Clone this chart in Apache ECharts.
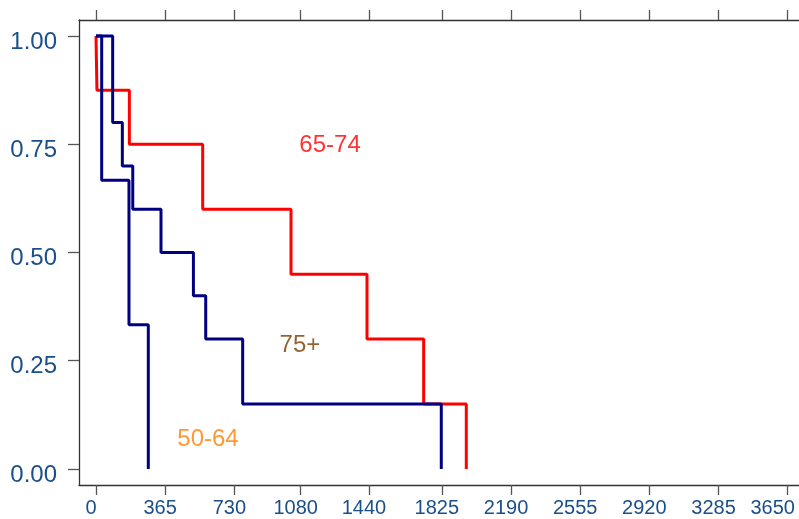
<!DOCTYPE html>
<html>
<head>
<meta charset="utf-8">
<script src="https://cdn.jsdelivr.net/npm/echarts@6/dist/echarts.min.js"></script>
<style>html,body{margin:0;padding:0;background:#fff;}#c{width:799px;height:519px;}</style>
</head>
<body>
<div id="c"></div>
<script>
// Data
const xTicks = [0, 365, 730, 1080, 1440, 1825, 2190, 2555, 2920, 3285, 3650];
const yTicks = [0, 0.25, 0.5, 0.75, 1];

const redTimes = [0, 5, 176, 563, 1029, 1430, 1729, 1954];
const redSurv  = [1, 0.875, 0.75, 0.6, 0.45, 0.3, 0.15, 0];

const navyATimes = [0, 30, 174, 276];
const navyASurv  = [1, 0.667, 0.333, 0];

const navyBTimes = [0, 88, 139, 194, 343, 514, 579, 774, 1822];
const navyBSurv  = [1, 0.8, 0.7, 0.6, 0.5, 0.4, 0.3, 0.15, 0];

const groupLabels = ['65-74', '75+', '50-64'];
const labelX = [1235, 1076, 591];
const labelY = [0.748, 0.285, 0.068];
const labelColors = ['#ff0000', '#7a3c00', '#ff7f00'];

const zip = (a, b) => a.map((v, i) => [v, b[i]]);

const chart = echarts.init(document.getElementById('c'), null, {renderer: 'canvas'});
const labelBlue = '#1a4f8a';
const font = 'Liberation Sans, Arial, sans-serif';
const xMin = -89.7, xMax = 3709.6;
const lastX = xTicks[xTicks.length - 1];
const option = {
  animation: false,
  backgroundColor: '#ffffff',
  grid: {left: 79, right: 0, top: 20, bottom: 34, outerBoundsMode: 'none', containLabel: false},
  xAxis: [
    {
      type: 'value', position: 'bottom', min: xMin, max: xMax,
      splitLine: {show: false},
      axisLine: {show: true, onZero: false, lineStyle: {color: '#333', width: 1.3}},
      axisTick: {show: true, inside: false, length: 10, customValues: xTicks, lineStyle: {color: '#555', width: 1.3}},
      axisLabel: {show: true, customValues: xTicks, margin: 13, color: labelBlue, fontSize: 20, fontFamily: font,
                  padding: [0, 10, 0, 0],
                  formatter: v => v === lastX ? '{e|' + v + '}' : String(v),
                  rich: {e: {color: labelBlue, fontSize: 20, fontFamily: font, padding: [0, 20, 0, 0]}}}
    },
    {
      type: 'value', position: 'top', min: xMin, max: xMax,
      splitLine: {show: false},
      axisLine: {show: true, onZero: false, lineStyle: {color: '#333', width: 1.3}},
      axisTick: {show: true, inside: false, length: 10, customValues: xTicks, lineStyle: {color: '#555', width: 1.3}},
      axisLabel: {show: false}
    }
  ],
  yAxis: {
    type: 'value', min: -0.037, max: 1.037,
    splitLine: {show: false},
    axisLine: {show: true, onZero: false, lineStyle: {color: '#333', width: 1.3}},
    axisTick: {show: true, inside: false, length: 11, customValues: yTicks, lineStyle: {color: '#555', width: 1.3}},
    axisLabel: {
      show: true, customValues: yTicks, margin: 22, color: labelBlue, fontSize: 24,
      fontFamily: font, verticalAlign: 'top', lineHeight: 12,
      formatter: v => v.toFixed(2)
    }
  },
  series: [
    {type: 'line', step: 'end', data: zip(redTimes, redSurv), showSymbol: false, symbol: 'none',
     lineStyle: {color: '#ff0000', width: 3}, z: 2},
    {type: 'line', step: 'end', data: zip(navyATimes, navyASurv), showSymbol: false, symbol: 'none',
     lineStyle: {color: '#000080', width: 3}, z: 3},
    {type: 'line', step: 'end', data: zip(navyBTimes, navyBSurv), showSymbol: false, symbol: 'none',
     lineStyle: {color: '#000080', width: 3}, z: 4},
    {type: 'scatter', symbolSize: 0, silent: true, z: 5,
     data: groupLabels.map((t, i) => ({
       value: [labelX[i], labelY[i]],
       label: {show: true, position: 'inside', formatter: t, color: labelColors[i], fontSize: 24, fontFamily: font}
     }))}
  ]
};
chart.setOption(option);
</script>
</body>
</html>
